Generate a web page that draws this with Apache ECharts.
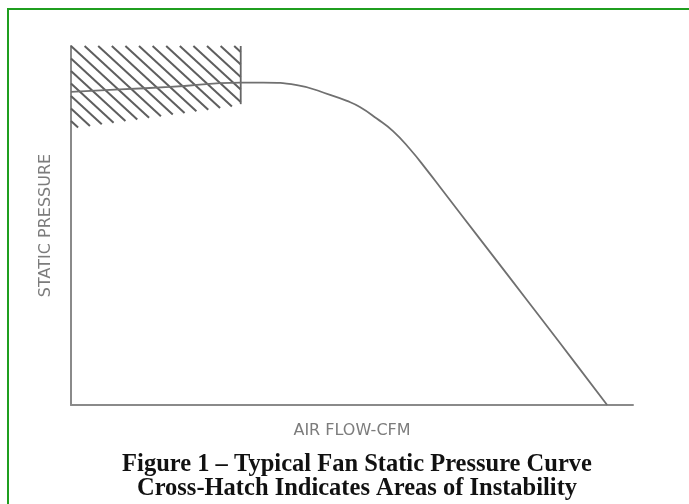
<!DOCTYPE html>
<html>
<head>
<meta charset="utf-8">
<script src="https://cdn.jsdelivr.net/npm/echarts@6/dist/echarts.min.js"></script>
<style>
html, body { margin: 0; padding: 0; background: #fff; overflow: hidden; }
#chart { position: absolute; left: 0; top: 0; width: 689px; height: 504px; }
/* green frame, only left and top edges show in the crop */
#frame { position: absolute; left: 7px; top: 8px; width: 720px; height: 540px;
  border-left: 2px solid #1f9e1f; border-top: 2px solid #1f9e1f; pointer-events: none; z-index: 2; }
</style>
</head>
<body>
<div id="chart"></div>
<div id="frame"></div>
<script>
// curve data (air flow vs static pressure, arbitrary units 0-100)
let flowX = [0, 8.7, 17.6, 30.2, 34.2, 40.2, 46.1, 49.1, 51.4, 54.4, 57.3, 60.3, 63.3, 66.2, 72.2, 78.1, 84.0, 90.0, 95.4]
let pressureY = [87.2, 87.9, 88.6, 89.8, 89.8, 89.1, 86.4, 84.7, 83.0, 79.8, 76.3, 71.3, 65.5, 59.6, 47.4, 35.4, 23.4, 11.1, 0]

// cross-hatch area (instability region)
let hatchX = [0, 30.2]
let hatchTop = [100, 100]
let hatchBottom = [77, 83.5]
let hatchEdgeBottom = 83.8

let captionLines = ['Figure 1 \u2013 Typical Fan Static Pressure Curve', 'Cross-Hatch Indicates Areas of Instability']

let myChart = echarts.init(document.getElementById('chart'))

let hatchRender = function (params, api) {
    let tl = api.coord([hatchX[0], hatchTop[0]])
    let tr = api.coord([hatchX[1], hatchTop[1]])
    let bl = api.coord([hatchX[0], hatchBottom[0]])
    let br = api.coord([hatchX[1], hatchBottom[1]])
    let eb = api.coord([hatchX[1], hatchEdgeBottom])
    let L = tl[0], R = tr[0], T = tl[1]
    let m = (br[1] - bl[1]) / (R - L)
    let s = 0.92      // hatch slope (px)
    let dx = 13.6     // hatch spacing along top (px)
    let children = []
    for (let k = -12; k < 20; k++) {
        let c = T - s * (L + k * dx)
        let x0 = Math.max(L, (T - c) / s)
        let x1 = Math.min(R, (bl[1] - m * L - c) / (s - m))
        if (x1 - x0 < 1) continue
        children.push({
            type: 'line',
            shape: { x1: x0, y1: c + s * x0, x2: x1, y2: c + s * x1 },
            style: { stroke: '#5e5e5e', lineWidth: 2 }
        })
    }
    // right edge of hatched box
    children.push({
        type: 'line',
        shape: { x1: tr[0], y1: tr[1], x2: eb[0], y2: eb[1] },
        style: { stroke: '#666', lineWidth: 1.8 }
    })
    return { type: 'group', children: children }
}

let option = {
    animation: false,
    title: {
        text: captionLines.join('\n'),
        left: 352,
        textAlign: 'center',
        top: 448,
        textStyle: {
            fontFamily: 'Liberation Serif',
            fontWeight: 'bold',
            fontSize: 24.5,
            lineHeight: 24,
            color: '#111'
        }
    },
    grid: {
        left: 71,
        right: 56,
        top: 46,
        bottom: 99
    },
    xAxis: {
        type: 'value',
        min: 0,
        max: 100,
        name: 'AIR FLOW-CFM',
        nameLocation: 'middle',
        nameGap: 18,
        nameTextStyle: { color: '#7c7c7c', fontSize: 16, fontFamily: 'DejaVu Sans' },
        axisLine: { show: true, onZero: false, lineStyle: { color: '#8a8a8a', width: 2 } },
        axisTick: { show: false },
        axisLabel: { show: false },
        splitLine: { show: false }
    },
    yAxis: {
        type: 'value',
        min: 0,
        max: 100,
        name: 'STATIC PRESSURE',
        nameLocation: 'middle',
        nameGap: 17,
        nameTextStyle: { color: '#7c7c7c', fontSize: 16, fontFamily: 'DejaVu Sans' },
        axisLine: { show: true, onZero: false, lineStyle: { color: '#8a8a8a', width: 2 } },
        axisTick: { show: false },
        axisLabel: { show: false },
        splitLine: { show: false }
    },
    series: [
        {
            type: 'custom',
            data: [[hatchX[0], hatchTop[0]]],
            renderItem: hatchRender,
            clip: false,
            silent: true,
            z: 1
        },
        {
            type: 'line',
            data: flowX.map((x, i) => [x, pressureY[i]]),
            smooth: 0.5,
            symbol: 'none',
            lineStyle: { color: '#707070', width: 1.8 },
            z: 2
        }
    ]
}
myChart.setOption(option)
</script>
</body>
</html>
